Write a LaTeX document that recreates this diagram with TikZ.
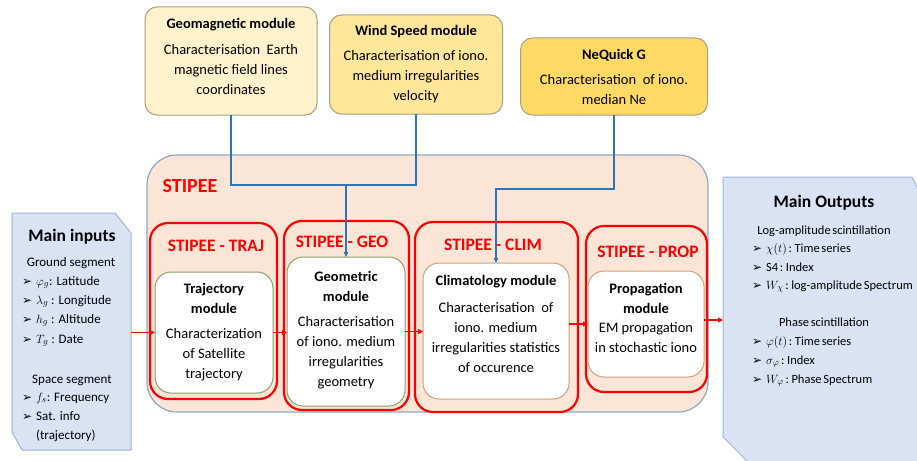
\documentclass[tikz,border=0pt]{standalone}
\usepackage{fontspec}
\setmainfont{Carlito}
\newfontfamily\dejavu{DejaVu Sans}
\newfontfamily\outfont[WordSpace=0.6]{Carlito}
\usetikzlibrary{arrows.meta}
\definecolor{stipeefill}{HTML}{FBE5D6}
\definecolor{stipeeborder}{HTML}{8FA8C8}
\definecolor{geofill}{HTML}{FFF2CC}
\definecolor{windfill}{HTML}{FFE699}
\definecolor{nqfill}{HTML}{FFD966}
\definecolor{topborder}{HTML}{A5A080}
\definecolor{modgreen}{HTML}{8A9F6A}
\definecolor{modbrown}{HTML}{C9A27E}
\definecolor{iofill}{HTML}{DAE3F3}
\definecolor{ioborder}{HTML}{9FB4D3}
\definecolor{linkblue}{HTML}{2E75B6}
\definecolor{stred}{HTML}{FF0000}
\newcommand\bul{\makebox[14pt][l]{\dejavu\fontsize{12}{12}\selectfont ➢}}
\tikzset{
  box/.style={rectangle, inner sep=0pt, outer sep=0pt},
  topbox/.style={box, draw=topborder, line width=1pt, rounded corners=12pt},
  redbox/.style={box, draw=stred, line width=2.2pt, rounded corners=18pt},
  modbox/.style={box, fill=white, line width=1pt, rounded corners=16pt},
  body/.style={font=\fontsize{14.5}{20}\selectfont, align=center, inner sep=0pt},
  head/.style={font=\bfseries\fontsize{14.5}{20}\selectfont, align=center, inner sep=0pt},
  redlab/.style={font=\bfseries\fontsize{17.5}{20}\selectfont, text=stred, inner sep=0pt},
  iohead/.style={font=\bfseries\fontsize{17.5}{20}\selectfont, inner sep=0pt},
  ioline/.style={font=\fontsize{13}{16}\selectfont, inner sep=0pt, text height=9pt, text depth=3pt},
  item/.style={ioline, anchor=west},
  outtxt/.style={font=\outfont\fontsize{12.5}{16}\selectfont, inner sep=0pt, text height=9pt, text depth=3pt},
  outitem/.style={outtxt, anchor=west},
  iopoly/.style={fill=iofill, draw=ioborder, line width=1pt},
  bluelink/.style={draw=linkblue, line width=1.5pt},
  bluearrow/.style={bluelink, -{Triangle[length=5pt,width=4.5pt]}},
  redarrow/.style={draw=stred, line width=1.5pt, -{Triangle[length=5pt,width=5pt]}}
}
\begin{document}
\begin{tikzpicture}[x=1pt,y=-1pt]
\useasboundingbox (0,0) rectangle (917,460);

% top modules
\node[topbox, fill=geofill, minimum width=172pt, minimum height=108pt] (geomag) at (231,61) {};
\node[topbox, fill=windfill, minimum width=173pt, minimum height=99pt] (wind) at (416,64.5) {};
\node[topbox, fill=nqfill, minimum width=187pt, minimum height=77pt] (nequick) at (614,76.5) {};

\node[head] (geomagh) at (231,25) {Geomagnetic module};
\node[body] (geomagb) at (231,70) {Characterisation\ \ Earth\\magnetic field lines\\coordinates};
\node[head] (windh) at (416,32) {Wind Speed module};
\node[body] (windb) at (416,77) {Characterisation of iono.\\medium irregularities\\velocity};
\node[head] (nqh) at (614,55) {NeQuick G};
\node[body] (nqb) at (614,90) {Characterisation\ \ of iono.\\median Ne};

% STIPEE container
\node[box, fill=stipeefill, draw=stipeeborder, line width=1.2pt, rounded corners=30pt,
      minimum width=561pt, minimum height=257pt] (stipee) at (427.5,283.5) {};
\node[font=\bfseries\fontsize{20}{24}\selectfont, text=stred, inner sep=0pt] (stipeel) at (190,186) {STIPEE};

% red sub-boxes
\node[redbox, minimum width=127pt, minimum height=176pt] (traj) at (213.5,311) {};
\node[redbox, minimum width=125pt, minimum height=189pt] (geo) at (346.5,315.5) {};
\node[redbox, minimum width=163pt, minimum height=190pt] (clim) at (496.5,317) {};
\node[redbox, minimum width=121pt, minimum height=166pt] (prop) at (646.5,309) {};

\node[redlab] (trajl) at (216,246) {STIPEE - TRAJ};
\node[redlab] (geol) at (342,242) {STIPEE - GEO};
\node[redlab] (climl) at (493,245) {STIPEE - CLIM};
\node[redlab] (propl) at (648,252) {STIPEE - PROP};

% white modules
\node[modbox, draw=modgreen, minimum width=118pt, minimum height=121pt] (trajmod) at (214,332.5) {};
\node[modbox, draw=modgreen, minimum width=118pt, minimum height=149pt] (geomod) at (346,331.5) {};
\node[modbox, draw=modbrown, minimum width=146pt, minimum height=136pt] (climmod) at (496,331) {};
\node[modbox, draw=modbrown, minimum width=116pt, minimum height=106pt] (propmod) at (646,324) {};

\node[head] (trajh) at (214,298) {Trajectory\\module};
\node[body] (trajb) at (214,355) {Characterization\\of Satellite\\trajectory};
\node[head] (geomh) at (346,286) {Geometric\\module};
\node[body] (geomb) at (346,353) {Characterisation\\of iono. medium\\irregularities\\geometry};
\node[head] (climh) at (496,282) {Climatology module};
\node[body] (climb) at (496,338) {Characterisation\ \ of\\iono. medium\\irregularities statistics\\of occurence};
\node[head] (proph) at (646,298) {Propagation\\module};
\node[body] (propb) at (646,338) {EM propagation\\in stochastic iono};

% inputs
\node[box, minimum width=119pt, minimum height=237pt] (inputs) at (71.5,331.5) {};
\draw[iopoly] (inputs.north west) -- ([xshift=-16pt]inputs.north east) -- ([yshift=-20pt]inputs.north east)
  -- (inputs.south east) -- ([xshift=10pt]inputs.south west) -- ([yshift=18pt]inputs.south west) -- cycle;
\node[iohead] (inh) at (72,237) {Main inputs};
\node[ioline] (ing) at (71,263) {Ground segment};
\node[item] (in1) at (22,282) {\bul$\varphi_g$: Latitude};
\node[item] (in2) at (22,301) {\bul$\lambda_g$ : Longitude};
\node[item] (in3) at (22,320) {\bul$h_g$ : Altitude};
\node[item] (in4) at (22,340) {\bul$T_g$ : Date};
\node[ioline] (ins) at (72,380) {Space segment};
\node[item] (in5) at (22,398) {\bul$f_s$: Frequency};
\node[item] (in6) at (22,417) {\bul Sat. info};
\node[item] (in7) at (36,436) {(trajectory)};

% outputs
\node[box, minimum width=207pt, minimum height=288pt] (outputs) at (826.5,321) {};
\draw[iopoly] (outputs.north west) -- ([xshift=-18pt]outputs.north east) -- ([yshift=-36pt]outputs.north east)
  -- (outputs.south east) -- ([xshift=28pt]outputs.south west) -- ([yshift=28pt]outputs.south west) -- cycle;
\node[iohead] (outh) at (824,203) {Main Outputs};
\node[outtxt] (outla) at (824,231) {Log-amplitude scintillation};
\node[outitem] (out1) at (752,249) {\bul$\chi(t)$ : Time series};
\node[outitem] (out2) at (752,268) {\bul S4 : Index};
\node[outitem] (out3) at (752,286) {\bul$W_\chi$ : log-amplitude Spectrum};
\node[outtxt] (outph) at (824,323) {Phase scintillation};
\node[outitem] (out4) at (752,342) {\bul$\varphi(t)$ : Time series};
\node[outitem] (out5) at (752,361) {\bul$\sigma_\varphi$ : Index};
\node[outitem] (out6) at (752,380) {\bul$W_\varphi$ : Phase Spectrum};

% blue links
\coordinate (j1) at (346,185);
\coordinate (j2) at (614,189);
\draw[bluelink] (geomag.south) -- (geomag.south |- j1) -- (wind.south |- j1) -- (wind.south);
\draw[bluearrow] (j1) -- (geomod.north);
\draw[bluearrow] (nequick.south) -- (j2) -| (climmod.north);

% red flow
\draw[redarrow] (inputs.east |- trajmod.west) -- (trajmod.west);
\draw[redarrow] (trajmod.east) -- (geomod.west |- trajmod.east);
\draw[redarrow] (geomod.east) -- (climmod.west |- geomod.east);
\draw[redarrow] (climmod.east |- propmod.west) -- (propmod.west);
\coordinate (po) at ([yshift=4pt]propmod.east);
\draw[redarrow] (po) -- (outputs.west |- po);
\end{tikzpicture}
\end{document}
